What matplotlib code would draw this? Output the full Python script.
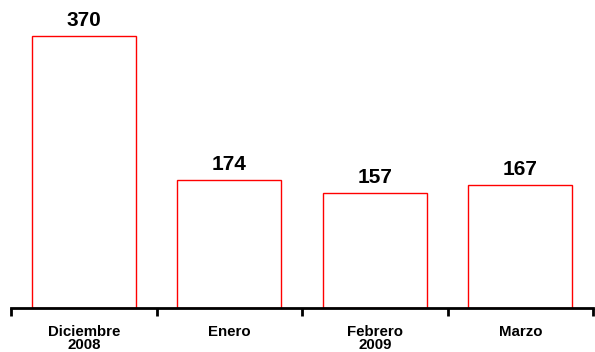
import numpy as np
import matplotlib.pyplot as plt

plt.rcParams['font.family'] = ['Liberation Sans', 'DejaVu Sans']

meses = ["Diciembre\n2008", "Enero", "Febrero\n2009", "Marzo"]
valores = [370, 174, 157, 167]

fig = plt.figure(figsize=(5.95, 3.52), dpi=100)
ax = fig.add_axes([11 / 595, 44 / 352, 582 / 595, 308 / 352])

x = np.arange(len(meses))
barras = ax.bar(x, valores, width=0.715, color="white", edgecolor="#ff0000", linewidth=1.0)

for xi, v in zip(x, valores):
    ax.text(xi, v + 8, f"{v}", ha="center", va="bottom",
            fontsize=15, fontweight="bold", color="black")

ax.set_xlim(-0.5, len(meses) - 0.5)
ax.set_ylim(0, 419)

# separadores entre categorías como ticks mayores, etiquetas en los centros
ax.set_xticks(np.arange(len(meses) + 1) - 0.5)
ax.set_xticklabels([])
ax.set_xticks(x, minor=True)
ax.set_xticklabels(meses, minor=True, fontsize=10.8, fontweight="bold", linespacing=0.95)
ax.tick_params(axis="x", which="major", length=6, width=2, direction="out", color="black")
ax.tick_params(axis="x", which="minor", length=0, pad=12)
ax.set_yticks([])

for lado in ["left", "right", "top"]:
    ax.spines[lado].set_visible(False)
ax.spines["bottom"].set_linewidth(2)
ax.spines["bottom"].set_color("black")

fig.savefig("out.png", dpi=100)
